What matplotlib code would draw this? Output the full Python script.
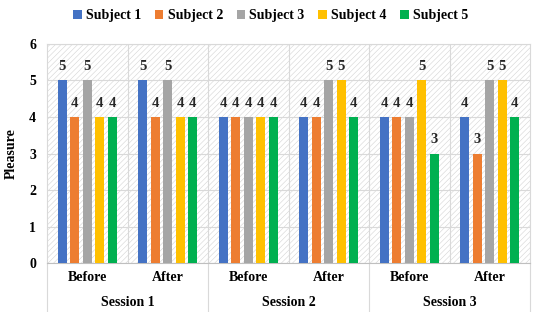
import numpy as np
import matplotlib.pyplot as plt
from matplotlib.patches import Rectangle
from matplotlib.lines import Line2D

plt.rcParams['font.family'] = ['Liberation Serif', 'DejaVu Serif']
plt.rcParams['font.weight'] = 'bold'
plt.rcParams['hatch.linewidth'] = 0.4

subjects = ["Subject 1", "Subject 2", "Subject 3", "Subject 4", "Subject 5"]
phases = ["Before", "After", "Before", "After", "Before", "After"]
sessions = ["Session 1", "Session 2", "Session 3"]
subject1 = [5, 5, 4, 4, 4, 4]
subject2 = [4, 4, 4, 4, 4, 3]
subject3 = [5, 5, 4, 5, 4, 5]
subject4 = [4, 4, 4, 5, 5, 5]
subject5 = [4, 4, 4, 4, 3, 4]
colors = ["#4472C4", "#ED7D31", "#A5A5A5", "#FFC000", "#00B050"]

series = [subject1, subject2, subject3, subject4, subject5]

fig = plt.figure(figsize=(5.36, 3.12), dpi=100)
ax = fig.add_axes([0.088, 0.157, 0.901, 0.702])

ax.add_patch(Rectangle((0, 0), 1, 1, transform=ax.transAxes, facecolor='white',
                       edgecolor='#d4d4d4', hatch='//////', lw=0, zorder=0))

x = np.arange(len(phases))
step = 0.155
width = 0.112
for i, (vals, c) in enumerate(zip(series, colors)):
    pos = x + (i - 2) * step
    ax.bar(pos, vals, width, color=c, label=subjects[i], zorder=3)
    for px, v in zip(pos, vals):
        ax.text(px, v + 0.2, str(v), ha='center', va='bottom', fontsize=10.5,
                fontweight='bold', color='#262626', zorder=4)

ax.set_xlim(-0.5, len(phases) - 0.5)
ax.set_ylim(0, 6)
ax.set_yticks(range(7))
ax.tick_params(axis='y', length=0, labelsize=10, pad=8)
ax.tick_params(axis='x', length=0, labelsize=10, pad=6)
ax.set_xticks(x)
ax.set_xticklabels(phases, fontweight='bold')
for t in ax.get_yticklabels():
    t.set_fontweight('bold')
ax.yaxis.grid(True, color='#d9d9d9', lw=0.8, zorder=1)
for b in np.arange(0.5, len(phases) - 0.5, 1):
    ax.axvline(b, color='#d9d9d9', lw=0.8, zorder=1)
for s in ['top', 'right', 'left']:
    ax.spines[s].set_color('#d9d9d9')
    ax.spines[s].set_linewidth(0.8)
ax.spines['bottom'].set_color('#bfbfbf')
ax.spines['bottom'].set_linewidth(0.8)

ax.set_ylabel("Pleasure", fontsize=10, fontweight='bold', labelpad=8)

# session group labels and separators below the axis
for k, s in enumerate(sessions):
    ax.text(2 * k + 0.5, -0.178, s, transform=ax.get_xaxis_transform(),
            ha='center', va='center', fontsize=10, fontweight='bold')
for b in [-0.5, 1.5, 3.5, 5.5]:
    ax.add_line(Line2D([b, b], [0, -0.23], transform=ax.get_xaxis_transform(),
                       color='#d9d9d9', lw=0.8, clip_on=False))

handles, labels = ax.get_legend_handles_labels()
fig.legend(handles, labels, loc='center', bbox_to_anchor=(0.505, 0.95), ncol=5,
           frameon=False, handlelength=0.6, handleheight=0.6, handletextpad=0.3,
           columnspacing=1.0, prop={'weight': 'bold', 'size': 10})

fig.savefig("out.png", dpi=100)
